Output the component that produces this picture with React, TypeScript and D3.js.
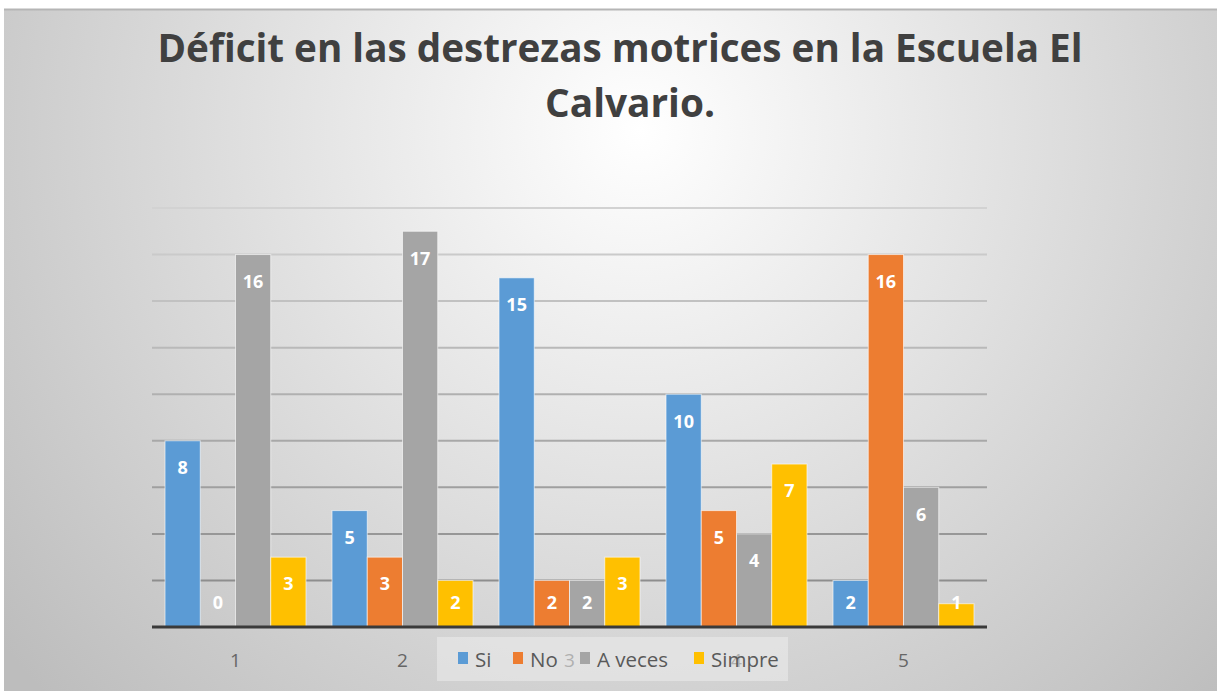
import React, { useEffect, useRef } from 'react';
import * as d3 from 'd3';

const categories = ['1', '2', '3', '4', '5'];
const seriesNames = ['Si', 'No', 'A veces', 'Simpre'];
const si = [8, 5, 15, 10, 2];
const no = [0, 3, 2, 5, 16];
const aVeces = [16, 17, 2, 4, 6];
const simpre = [3, 2, 3, 7, 1];
const yTicks = [0, 2, 4, 6, 8, 10, 12, 14, 16, 18];
const colors = ['#5B9BD5', '#ED7D31', '#A5A5A5', '#FFC000'];
const titleLines = ['Déficit en las destrezas motrices en la Escuela El', 'Calvario.'];

const App = () => {
  const ref = useRef<SVGSVGElement>(null);

  useEffect(() => {
    const W = 1217;
    const H = 691;
    const svg = d3.select(ref.current).attr('width', W).attr('height', H);
    svg.selectAll('*').remove();

    const defs = svg.append('defs');
    const grad = defs.append('radialGradient')
      .attr('id', 'bg')
      .attr('gradientUnits', 'userSpaceOnUse')
      .attr('cx', 640).attr('cy', 130).attr('r', 820);
    grad.append('stop').attr('offset', '0%').attr('stop-color', '#ffffff');
    grad.append('stop').attr('offset', '100%').attr('stop-color', '#bdbdbd');

    svg.append('rect').attr('width', W).attr('height', H).attr('fill', '#ffffff');
    svg.append('rect')
      .attr('x', 4).attr('y', 9)
      .attr('width', W - 4).attr('height', H - 9)
      .attr('fill', 'url(#bg)');
    svg.append('line')
      .attr('x1', 4).attr('x2', W).attr('y1', 9.5).attr('y2', 9.5)
      .attr('stroke', '#b5b5b5').attr('stroke-width', 2);

    // title (two lines, as in the original)
    const titlePos = [{ x: 620, y: 62, len: 925 }, { x: 630, y: 117, len: 170 }];
    titleLines.forEach((t, i) => {
      svg.append('text')
        .attr('x', titlePos[i].x).attr('y', titlePos[i].y)
        .attr('text-anchor', 'middle')
        .attr('textLength', titlePos[i].len)
        .attr('lengthAdjust', 'spacingAndGlyphs')
        .style('font-family', "'Open Sans', sans-serif")
        .style('font-weight', 700)
        .style('font-size', '40px')
        .attr('fill', '#404040')
        .text(t);
    });

    const left = 152, right = 987, top = 208, bottom = 627;

    const x = d3.scaleBand<string>()
      .domain(categories)
      .range([left, right])
      .paddingInner(0.156)
      .paddingOuter(0.078);
    const xs = d3.scaleBand<string>()
      .domain(seriesNames)
      .range([0, x.bandwidth()]);
    const y = d3.scaleLinear().domain([0, 18]).range([bottom, top]);

    const gridColor = d3.scaleLinear<string>().domain([18, 2]).range(['#d2d2d2', '#8e8e8e']);

    svg.append('g').selectAll('line')
      .data(yTicks.filter(t => t > 0))
      .enter().append('line')
      .attr('x1', left).attr('x2', right)
      .attr('y1', d => y(d)).attr('y2', d => y(d))
      .attr('stroke', d => gridColor(d))
      .attr('stroke-width', 2);

    const values = [si, no, aVeces, simpre];
    const rows = categories.flatMap((c, i) =>
      seriesNames.map((s, j) => ({ cat: c, series: s, idx: j, value: values[j][i] })));

    svg.append('g').selectAll('rect')
      .data(rows)
      .enter().append('rect')
      .attr('x', d => (x(d.cat) as number) + (xs(d.series) as number))
      .attr('y', d => y(d.value))
      .attr('width', xs.bandwidth())
      .attr('height', d => bottom - y(d.value))
      .attr('fill', d => colors[d.idx])
      .attr('stroke', '#ffffff')
      .attr('stroke-opacity', 0.6)
      .attr('stroke-width', 1);

    svg.append('g').selectAll('text')
      .data(rows)
      .enter().append('text')
      .attr('x', d => (x(d.cat) as number) + (xs(d.series) as number) + xs.bandwidth() / 2)
      .attr('y', d => Math.min(y(d.value) + 27, bottom - 24))
      .attr('dy', '0.35em')
      .attr('text-anchor', 'middle')
      .style('font-family', "'Open Sans', sans-serif")
      .style('font-weight', 700)
      .style('font-size', '18px')
      .attr('fill', '#ffffff')
      .text(d => d.value);

    // axis line
    svg.append('line')
      .attr('x1', left).attr('x2', right)
      .attr('y1', bottom).attr('y2', bottom)
      .attr('stroke', '#3a3a3a').attr('stroke-width', 3);

    // category labels
    svg.append('g').selectAll('text')
      .data(categories)
      .enter().append('text')
      .attr('x', d => (x(d) as number) + x.bandwidth() / 2)
      .attr('y', 667)
      .attr('text-anchor', 'middle')
      .style('font-family', "'Open Sans', sans-serif")
      .style('font-size', '19px')
      .attr('fill', '#666666')
      .text(d => d);

    // legend, drawn over the axis labels like the original
    const lg = svg.append('g');
    lg.append('rect')
      .attr('x', 437).attr('y', 637)
      .attr('width', 351).attr('height', 44)
      .attr('fill', '#ececec').attr('fill-opacity', 0.55);
    const legendX = [458, 513, 580, 694];
    seriesNames.forEach((s, i) => {
      lg.append('rect')
        .attr('x', legendX[i]).attr('y', 652)
        .attr('width', 10).attr('height', 12)
        .attr('fill', colors[i]);
      lg.append('text')
        .attr('x', legendX[i] + 17).attr('y', 667)
        .style('font-family', "'Open Sans', sans-serif")
        .style('font-size', '20.5px')
        .attr('fill', '#595959')
        .text(s);
    });
  }, []);

  return (
    <svg ref={ref} style={{ position: 'absolute', left: 0, top: 0, display: 'block' }}></svg>
  );
};

export default App;
